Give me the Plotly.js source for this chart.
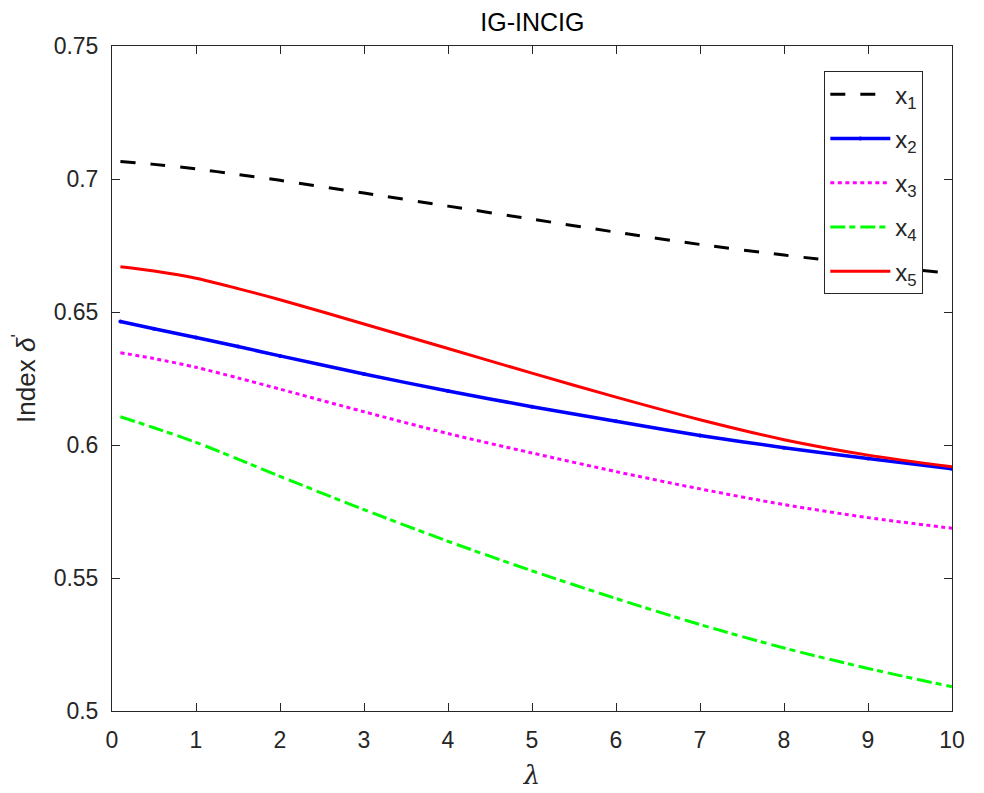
<!DOCTYPE html>
<html>
<head>
<meta charset="utf-8">
<script src="https://cdn.plot.ly/plotly-3.0.1.min.js"></script>
<style>html,body{margin:0;padding:0;background:#fff;}#chart{width:984px;height:793px;}</style>
</head>
<body>
<div id="chart"></div>
<script>
const lambda = [0.1, 0.5, 1, 1.5, 2, 3, 4, 5, 6, 7, 8, 9, 10];
const x1 = [0.7066, 0.7055, 0.7038, 0.7017, 0.6995, 0.6947, 0.6898, 0.6849, 0.6800, 0.6754, 0.6714, 0.6678, 0.6645];
const x2 = [0.6464, 0.6437, 0.6404, 0.6370, 0.6335, 0.6267, 0.6203, 0.6144, 0.6089, 0.6036, 0.5990, 0.5949, 0.5911];
const x3 = [0.6347, 0.6325, 0.6292, 0.6252, 0.6210, 0.6125, 0.6043, 0.5970, 0.5900, 0.5835, 0.5776, 0.5727, 0.5687];
const x4 = [0.6106, 0.6065, 0.6010, 0.5947, 0.5882, 0.5757, 0.5638, 0.5527, 0.5423, 0.5325, 0.5237, 0.5160, 0.5091];
const x5 = [0.6670, 0.6654, 0.6627, 0.6588, 0.6546, 0.6455, 0.6363, 0.6270, 0.6180, 0.6095, 0.6020, 0.5962, 0.5918];
const names = ['x<sub>1</sub>', 'x<sub>2</sub>', 'x<sub>3</sub>', 'x<sub>4</sub>', 'x<sub>5</sub>'];

const traces = [
  {x: lambda, y: x1, name: names[0], mode: 'lines', line: {color: '#000000', width: 3, dash: '15px,15px', shape: 'spline', smoothing: 0.8}},
  {x: lambda, y: x2, name: names[1], mode: 'lines+markers', line: {color: '#0000ff', width: 3.5, shape: 'spline', smoothing: 0.8}, marker: {size: 4, color: '#0000ff'}},
  {x: lambda, y: x3, name: names[2], mode: 'lines', line: {color: '#ff00ff', width: 3, dash: '4px,3.5px', shape: 'spline', smoothing: 0.8}},
  {x: lambda, y: x4, name: names[3], mode: 'lines', line: {color: '#00ff00', width: 3, dash: '15px,4px,6px,5px', shape: 'spline', smoothing: 0.8}},
  {x: lambda, y: x5, name: names[4], mode: 'lines', line: {color: '#ff0000', width: 3, shape: 'spline', smoothing: 0.8}}
].map((t, i) => Object.assign(t, {type: 'scatter', legendgroup: 'g' + i}));

const FONT = 'Liberation Sans, Arial, sans-serif';
const axisCommon = {
  showgrid: false, zeroline: false, showline: true, mirror: 'ticks',
  linecolor: '#262626', linewidth: 1, ticks: 'inside', ticklen: 8, tickwidth: 1,
  tickcolor: '#262626', ticklabelstandoff: 8,
  tickfont: {family: FONT, size: 23, color: '#262626'}
};

const layout = {
  width: 984, height: 793,
  margin: {l: 112, r: 32, t: 46, b: 82},
  paper_bgcolor: '#ffffff', plot_bgcolor: '#ffffff',
  font: {family: FONT, color: '#262626'},
  title: {text: 'IG-INCIG', x: 0.541, xanchor: 'center', y: 0.972, yanchor: 'middle',
          font: {size: 25, color: '#000000', family: FONT}},
  xaxis: Object.assign({}, axisCommon, {
    range: [0, 10], tickvals: [0,1,2,3,4,5,6,7,8,9,10], ticktext: ['0','1','2','3','4','5','6','7','8','9','10'],
    title: {text: '<i>λ</i>', font: {size: 26, color: '#262626', family: 'DejaVu Serif, serif'}, standoff: 14}
  }),
  yaxis: Object.assign({}, axisCommon, {
    range: [0.5, 0.75], tickvals: [0.5, 0.55, 0.6, 0.65, 0.7, 0.75], ticktext: ['0.5','0.55','0.6','0.65','0.7','0.75'],
    title: {text: 'Index <i>δ</i><sup>\'</sup>', font: {size: 26, color: '#262626', family: FONT}, standoff: 10}
  }),
  showlegend: true,
  legend: {
    x: 0.848, y: 0.962, xanchor: 'left', yanchor: 'top',
    bgcolor: '#ffffff', bordercolor: '#262626', borderwidth: 1,
    font: {size: 24, color: '#262626', family: FONT},
    tracegroupgap: 10, itemwidth: 60
  }
};

Plotly.newPlot('chart', traces, layout, {displayModeBar: false, staticPlot: true});
</script>
</body>
</html>
